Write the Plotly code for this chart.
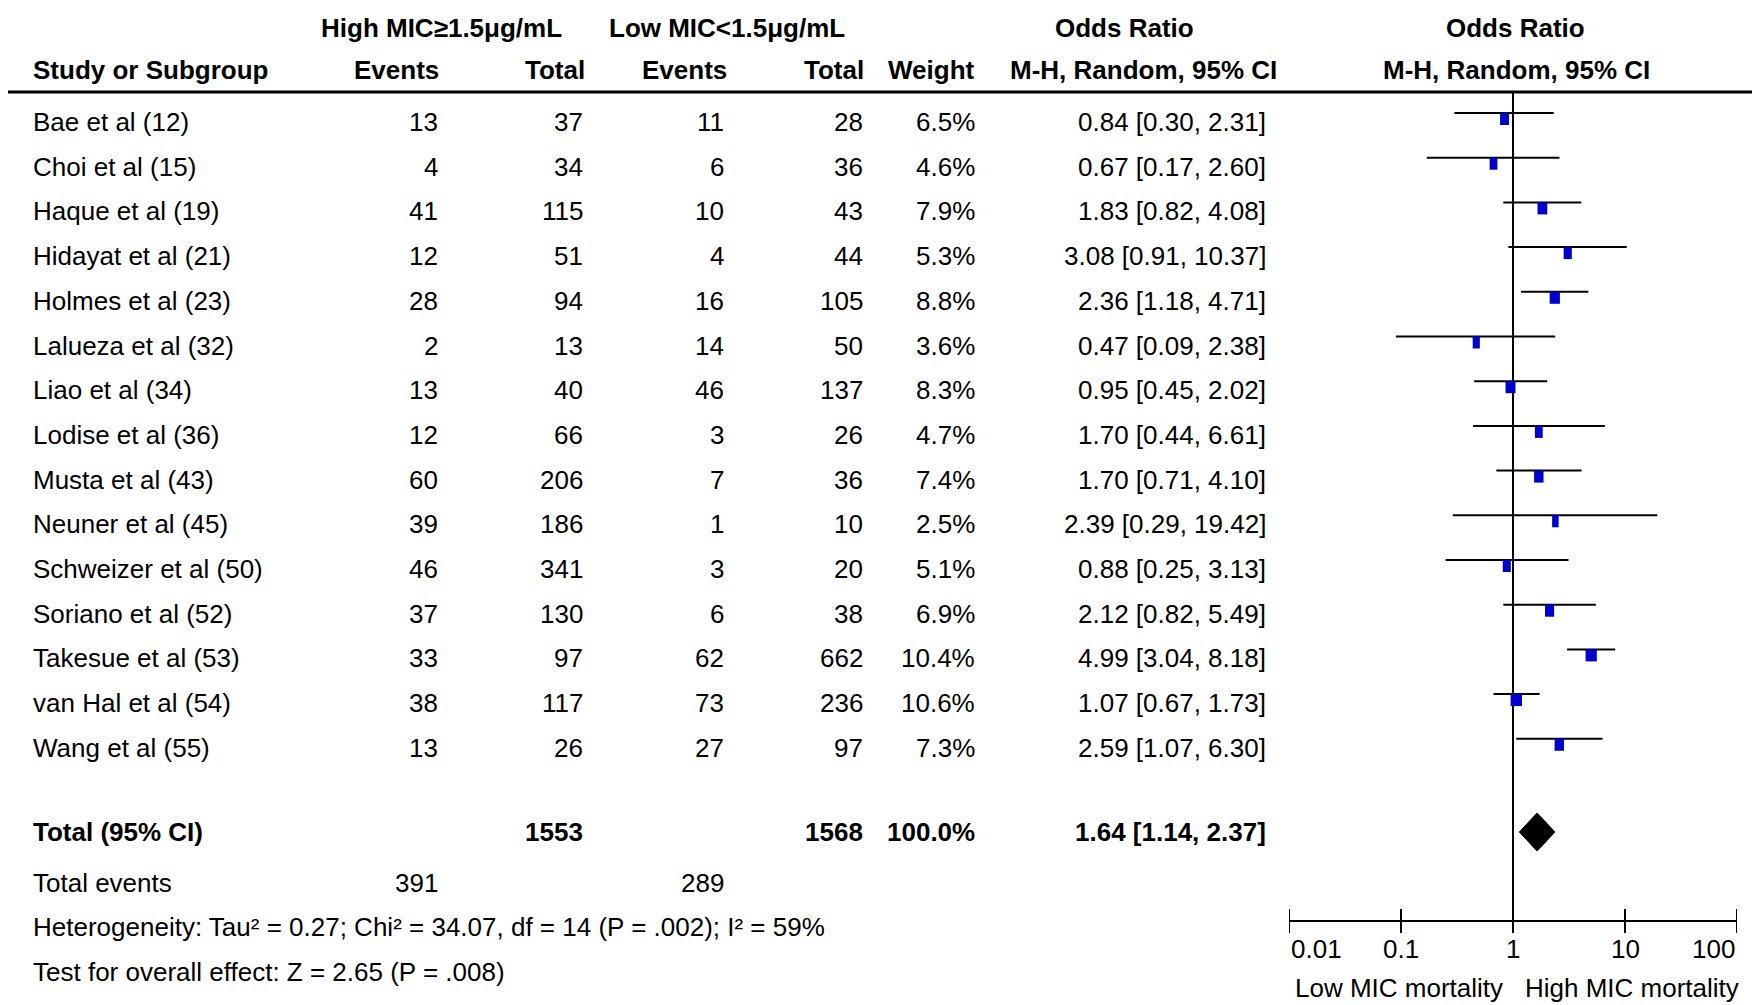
import numpy as np
import plotly.graph_objects as go

# ---------------- data ----------------
studies = ["Bae et al (12)", "Choi et al (15)", "Haque et al (19)", "Hidayat et al (21)",
           "Holmes et al (23)", "Lalueza et al (32)", "Liao et al (34)", "Lodise et al (36)",
           "Musta et al (43)", "Neuner et al (45)", "Schweizer et al (50)", "Soriano et al (52)",
           "Takesue et al (53)", "van Hal et al (54)", "Wang et al (55)"]
high_events = [13, 4, 41, 12, 28, 2, 13, 12, 60, 39, 46, 37, 33, 38, 13]
high_total = [37, 34, 115, 51, 94, 13, 40, 66, 206, 186, 341, 130, 97, 117, 26]
low_events = [11, 6, 10, 4, 16, 14, 46, 3, 7, 1, 3, 6, 62, 73, 27]
low_total = [28, 36, 43, 44, 105, 50, 137, 26, 36, 10, 20, 38, 662, 236, 97]
weights = [6.5, 4.6, 7.9, 5.3, 8.8, 3.6, 8.3, 4.7, 7.4, 2.5, 5.1, 6.9, 10.4, 10.6, 7.3]
odds_ratio = [0.84, 0.67, 1.83, 3.08, 2.36, 0.47, 0.95, 1.70, 1.70, 2.39, 0.88, 2.12, 4.99, 1.07, 2.59]
ci_low = [0.30, 0.17, 0.82, 0.91, 1.18, 0.09, 0.45, 0.44, 0.71, 0.29, 0.25, 0.82, 3.04, 0.67, 1.07]
ci_high = [2.31, 2.60, 4.08, 10.37, 4.71, 2.38, 2.02, 6.61, 4.10, 19.42, 3.13, 5.49, 8.18, 1.73, 6.30]

total_high = 1553
total_low = 1568
total_weight = 100.0
total_or = 1.64
total_ci = [1.14, 2.37]
events_high = 391
events_low = 289
heterogeneity = "Heterogeneity: Tau² = 0.27; Chi² = 34.07, df = 14 (P = .002); I² = 59%"
overall = "Test for overall effect: Z = 2.65 (P = .008)"

tick_vals = [0.01, 0.1, 1, 10, 100]
tick_text = ["0.01", "0.1", "1", "10", "100"]
favours = ["Low MIC mortality", "High MIC mortality"]

# ---------------- layout helpers ----------------
W, H = 1752, 1005
FONT = "Arial, 'Liberation Sans', sans-serif"
FS = 26
ROW_PX = 44.7
ROW1_PX = 122.0


def yrow(px):
    return 1 + (px - ROW1_PX) / ROW_PX


def xp(px):
    return px / W


rows = np.arange(1, len(studies) + 1)
y_total = yrow(832)
y_events = yrow(883)
y_het = yrow(927)
y_test = yrow(972)
y_head1 = yrow(28)
y_head2 = yrow(70)
y_rule = yrow(92)
y_axis = yrow(921)
tick_half = 12 / ROW_PX
y_ticklab = yrow(949)
y_fav = yrow(988)
ci_off = -9 / ROW_PX
box_h = 12 / ROW_PX
dia_half = 19 / ROW_PX

fig = go.Figure()

# CI lines
xs, ys = [], []
for r, lo, hi in zip(rows, ci_low, ci_high):
    xs += [lo, hi, None]
    ys += [r + ci_off, r + ci_off, None]
fig.add_trace(go.Scatter(x=xs, y=ys, mode="lines", line=dict(color="black", width=2),
                         hoverinfo="skip"))

# line of no effect
fig.add_trace(go.Scatter(x=[1, 1], y=[y_rule, y_axis], mode="lines",
                         line=dict(color="black", width=2), hoverinfo="skip"))

# weight boxes (rectangles whose width follows the study weight)
for r, o, w in zip(rows, odds_ratio, weights):
    fig.add_trace(go.Scatter(x=[o, o], y=[r + ci_off, r + ci_off + box_h], mode="lines",
                             line=dict(color="#0000CC", width=5 + 0.6 * w),
                             hoverinfo="skip"))

# pooled diamond
fig.add_trace(go.Scatter(x=[total_ci[0], total_or, total_ci[1], total_or, total_ci[0]],
                         y=[y_total, y_total - dia_half, y_total, y_total + dia_half, y_total],
                         mode="lines", fill="toself", fillcolor="black",
                         line=dict(color="black", width=1), hoverinfo="skip"))

# bottom axis line + ticks
tx, ty = [tick_vals[0], tick_vals[-1], None], [y_axis, y_axis, None]
for t in tick_vals:
    tx += [t, t, None]
    ty += [y_axis - tick_half, y_axis + tick_half, None]
fig.add_trace(go.Scatter(x=tx, y=ty, mode="lines", line=dict(color="black", width=2),
                         hoverinfo="skip"))

ann = []


def txt(x, y, s, anchor="left", bold=False, xref="paper"):
    ann.append(dict(x=x, y=y, xref=xref, yref="y", text=f"<b>{s}</b>" if bold else s,
                    showarrow=False, xanchor=anchor, yanchor="middle",
                    font=dict(family=FONT, size=FS, color="black")))


# headers
txt(xp(441), y_head1, "High MIC≥1.5μg/mL", "center", True)
txt(xp(727), y_head1, "Low MIC<1.5μg/mL", "center", True)
txt(xp(1124), y_head1, "Odds Ratio", "center", True)
txt(xp(1515), y_head1, "Odds Ratio", "center", True)
txt(xp(31), y_head2, "Study or Subgroup", "left", True)
txt(xp(441), y_head2, "Events", "right", True)
txt(xp(587), y_head2, "Total", "right", True)
txt(xp(729), y_head2, "Events", "right", True)
txt(xp(866), y_head2, "Total", "right", True)
txt(xp(977), y_head2, "Weight", "right", True)
txt(xp(1143), y_head2, "M-H, Random, 95% CI", "center", True)
txt(xp(1516), y_head2, "M-H, Random, 95% CI", "center", True)

# study rows
for r, n, he, ht, le, lt, w, o, lo, hi in zip(rows, studies, high_events, high_total, low_events,
                                               low_total, weights, odds_ratio, ci_low, ci_high):
    txt(xp(31), r, n, "left")
    txt(xp(440), r, str(he), "right")
    txt(xp(585), r, str(ht), "right")
    txt(xp(726), r, str(le), "right")
    txt(xp(865), r, str(lt), "right")
    txt(xp(977), r, f"{w:.1f}%", "right")
    txt(xp(1268), r, f"{o:.2f} [{lo:.2f}, {hi:.2f}]", "right")

# total row
txt(xp(31), y_total, "Total (95% CI)", "left", True)
txt(xp(585), y_total, str(total_high), "right", True)
txt(xp(865), y_total, str(total_low), "right", True)
txt(xp(977), y_total, f"{total_weight:.1f}%", "right", True)
txt(xp(1268), y_total, f"{total_or:.2f} [{total_ci[0]:.2f}, {total_ci[1]:.2f}]", "right", True)

txt(xp(31), y_events, "Total events", "left")
txt(xp(440), y_events, str(events_high), "right")
txt(xp(726), y_events, str(events_low), "right")
txt(xp(31), y_het, heterogeneity, "left")
txt(xp(31), y_test, overall, "left")

# axis tick labels
anchors = ["left", "center", "center", "center", "right"]
for v, s, a in zip(tick_vals, tick_text, anchors):
    txt(np.log10(v), y_ticklab, s, a, xref="x")

txt(xp(1505), y_fav, favours[0], "right")
txt(xp(1523), y_fav, favours[1], "left")

fig.update_layout(
    width=W, height=H, margin=dict(l=0, r=0, t=0, b=0),
    paper_bgcolor="white", plot_bgcolor="white", showlegend=False,
    annotations=ann,
    xaxis=dict(type="log", range=[-2, 2], domain=[xp(1289), xp(1737)], visible=False),
    yaxis=dict(range=[yrow(H), yrow(0)], domain=[0, 1], visible=False),
    shapes=[dict(type="line", xref="paper", yref="y", x0=xp(8), x1=1, y0=y_rule, y1=y_rule,
                 line=dict(color="black", width=3))],
)

fig.write_html("out.html", config={"displayModeBar": False},
               post_script="document.body.style.margin='0';document.body.style.overflow='hidden';")
